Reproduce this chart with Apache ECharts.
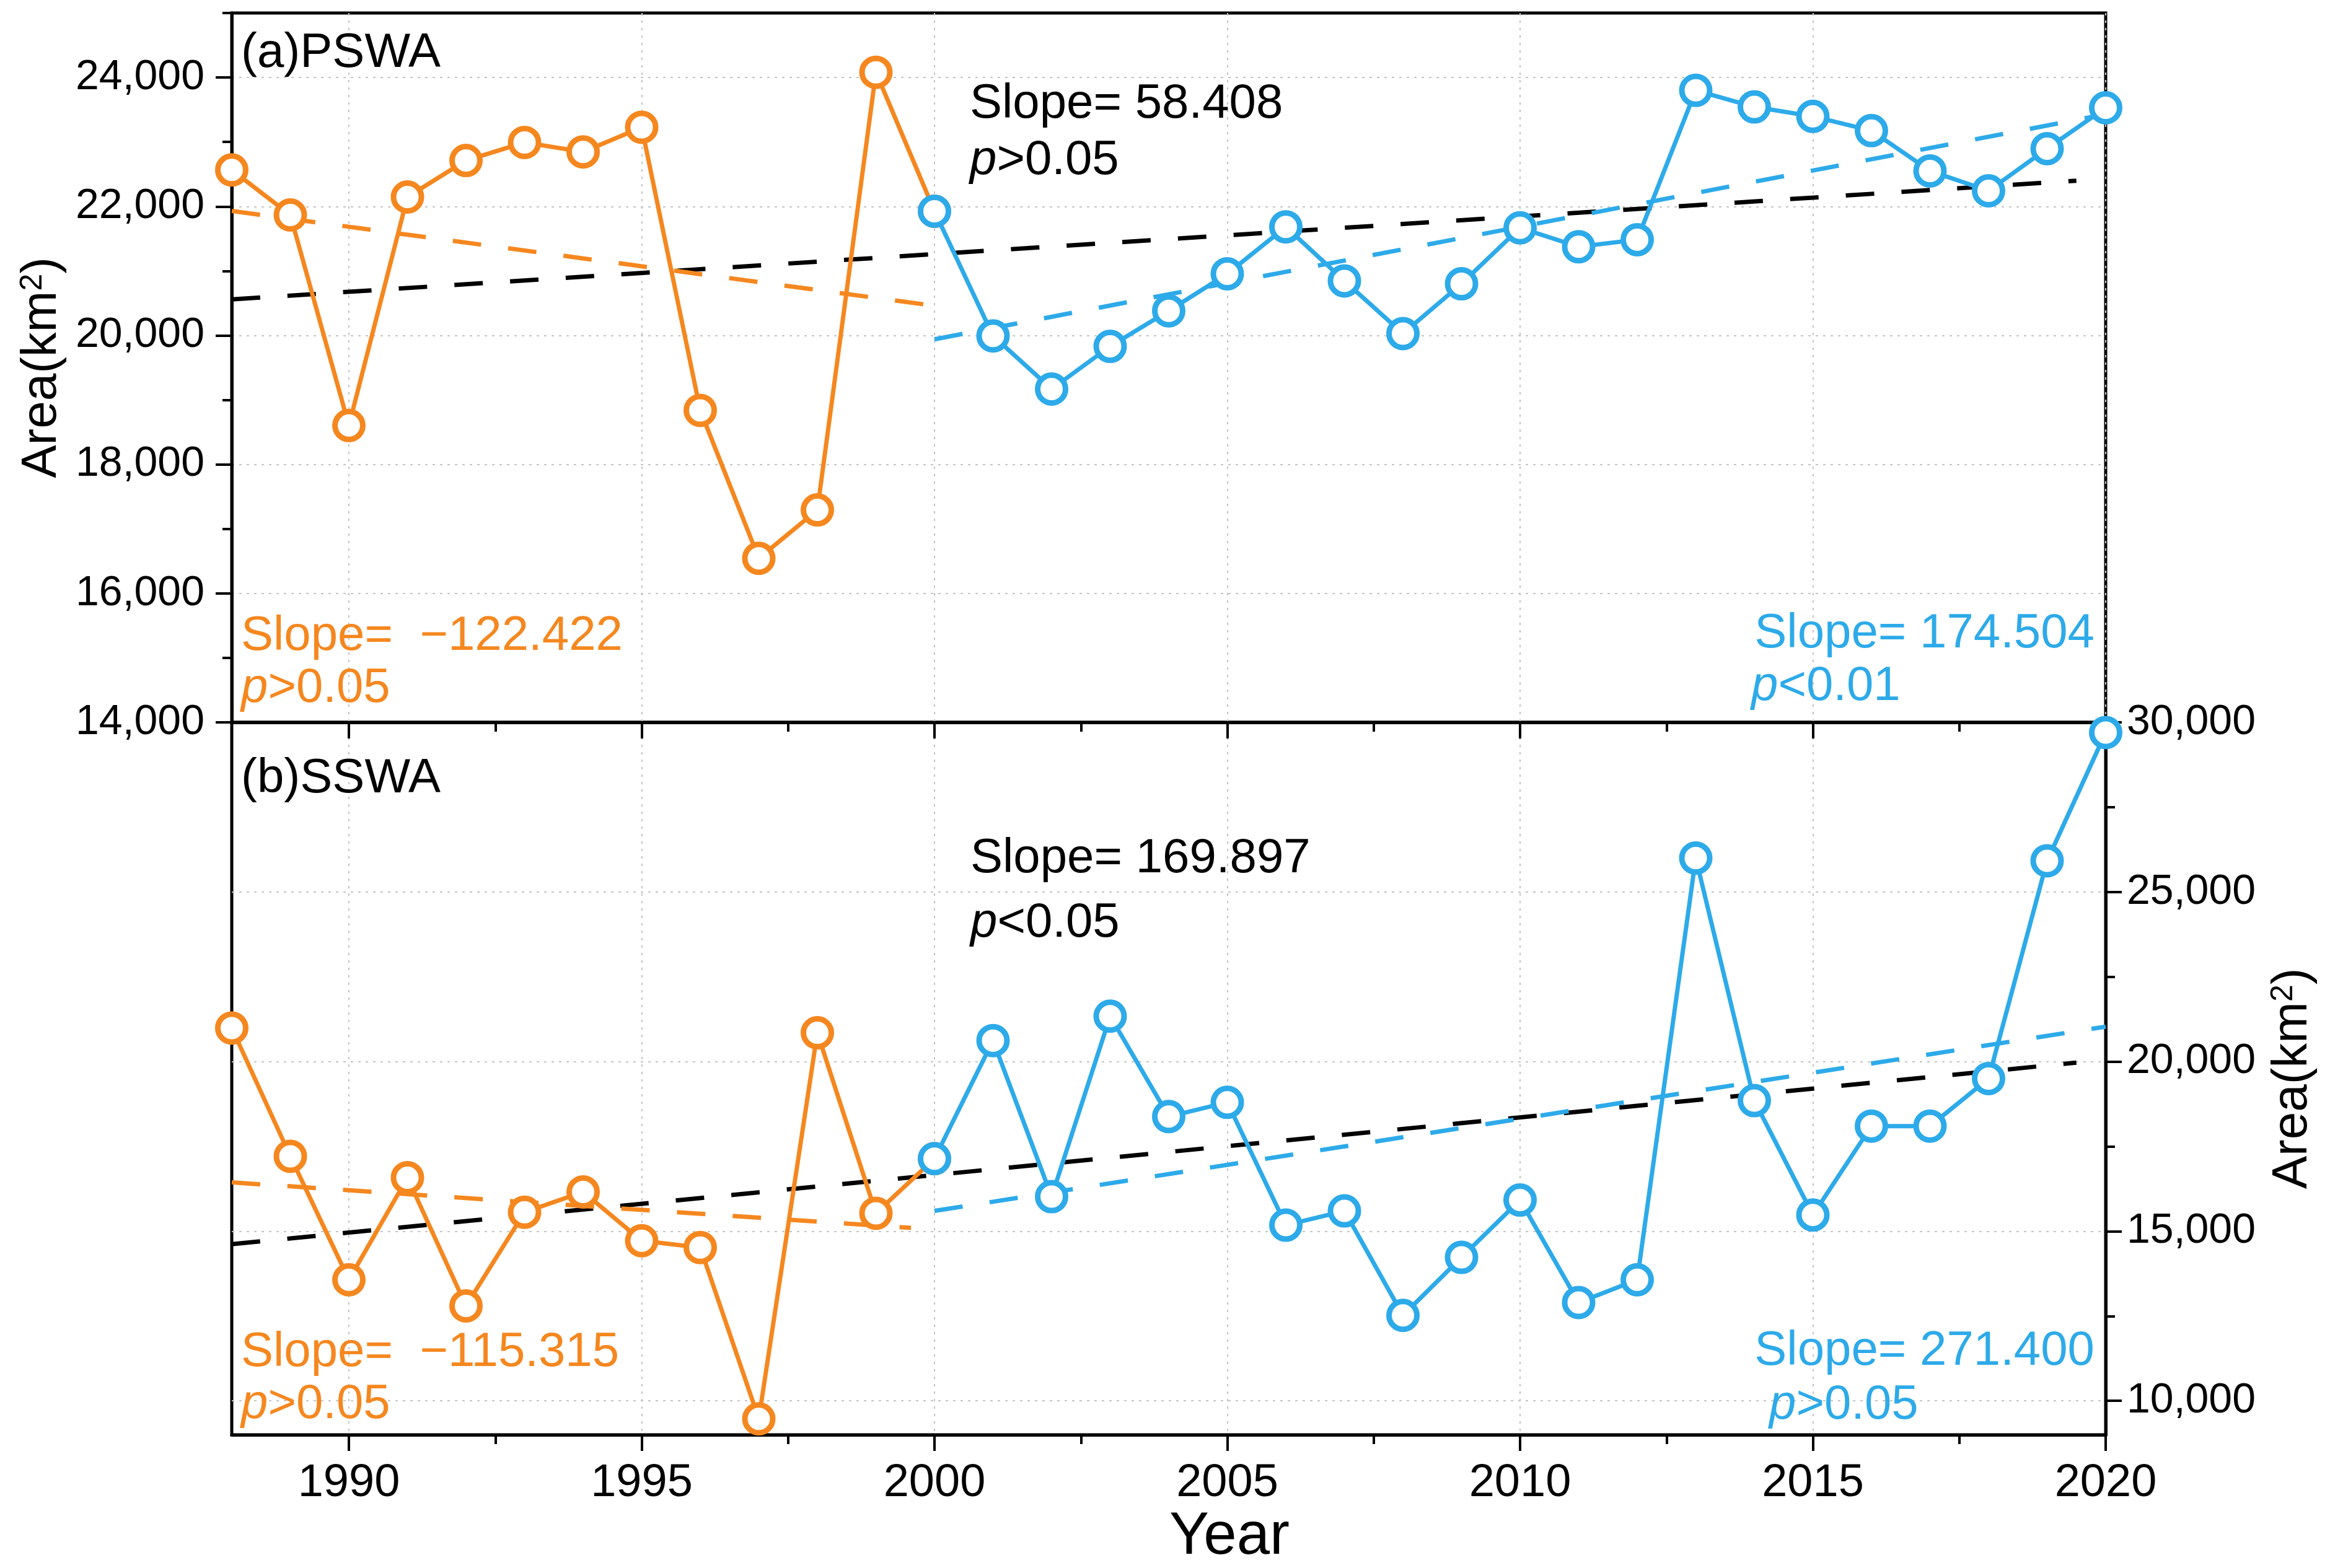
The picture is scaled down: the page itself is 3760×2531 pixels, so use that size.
<!DOCTYPE html>
<html><head><meta charset="utf-8">
<script src="https://cdn.jsdelivr.net/npm/echarts@6/dist/echarts.min.js"></script>
<style>html,body{margin:0;padding:0;background:#fff}#c{width:3760px;height:2531px}</style>
</head><body><div id="c"></div>
<script>
// ---------------- data ----------------
const years = [1988,1989,1990,1991,1992,1993,1994,1995,1996,1997,1998,1999,2000,2001,2002,2003,2004,2005,2006,2007,2008,2009,2010,2011,2012,2013,2014,2015,2016,2017,2018,2019,2020];
const pswaArea = [22566,21868,18603,22147,22713,22993,22846,23228,18838,16544,17294,24081,21926,19993,19169,19831,20382,20956,21684,20846,20029,20801,21669,21375,21485,23801,23544,23397,23176,22551,22243,22897,23530];
const sswaArea = [20990,17210,13570,16580,12800,15560,16160,14720,14520,9470,20850,15530,17140,20620,16020,21340,18380,18800,15180,15600,12520,14230,15920,12900,13570,26000,18850,15480,18100,18100,19500,25920,29700];
const splitYear = 2000;

// trend line end points
const pswaTrendAll = [[1988,20560],[2019.5,22400]];
const pswaTrendEarly = [[1988,21930],[2000,20460]];
const pswaTrendLate = [[2000,19940],[2020,23430]];
const sswaTrendAll = [[1988,14620],[2019.5,19970]];
const sswaTrendEarly = [[1988,16440],[1999.6,15100]];
const sswaTrendLate = [[2000,15600],[2020,21030]];

// ticks
const xTickValues = [1990,1995,2000,2005,2010,2015,2020];
const xMinorValues = [1992.5,1997.5,2002.5,2007.5,2012.5,2017.5];
const pswaTicks = [14000,16000,18000,20000,22000,24000];
const pswaMinor = [15000,17000,19000,21000,23000,25000];
const sswaTicks = [10000,15000,20000,25000,30000];
const sswaMinor = [12500,17500,22500,27500];

// annotation texts
const panelLabels = ['(a)PSWA','(b)SSWA'];
const slopeText = {
  pswa: ['Slope= 58.408','{i|p}>0.05','Slope=  \u2212122.422','{i|p}>0.05','Slope= 174.504','{i|p}<0.01'],
  sswa: ['Slope= 169.897','{i|p}<0.05','Slope=  \u2212115.315','{i|p}>0.05','Slope= 271.400','{i|p}>0.05']
};

// ---------------- styles ----------------
const FONT = '"Liberation Sans", Arial, Helvetica, sans-serif';
const ORANGE = '#F5871F', BLUE = '#2DAAE9', BLACK = '#000';
const GRIDLINE = {color:'#c4c4c4', width:2, type:[4,8]};

function pairs(arr, from, to){
  const out = [];
  years.forEach((y,i)=>{ if (y>=from && y<=to) out.push([y, arr[i]]); });
  return out;
}
const fmt = v => Number(v).toLocaleString('en-US');

function xAx(gi, vals, major, labels, name){
  return {
    type:'value', gridIndex:gi, min:1988, max:2020, position:'bottom',
    axisLine:{show:major, onZero:false, lineStyle:{color:BLACK, width:5}},
    axisTick:{show:true, inside:false, length: major?26:15, lineStyle:{color:BLACK, width:4}, customValues: vals},
    axisLabel:{show:labels, customValues: vals, margin:42, color:BLACK, fontSize:74, fontFamily:FONT, formatter: v=>String(v)},
    splitLine:{show:major, lineStyle:GRIDLINE},
    minorTick:{show:false},
    name: name || '', nameLocation:'middle', nameGap:118,
    nameTextStyle:{color:BLACK, fontSize:96, fontFamily:FONT, padding:[0,0,0,196]}
  };
}
const areaName = 'Area(km{s|2})';
const nameStyle = {color:BLACK, fontSize:80, fontFamily:FONT,
  rich:{s:{fontSize:50, fontFamily:FONT, color:BLACK, verticalAlign:'top', padding:[0,0,30,0]}}};

function yAx(gi, pos, min, max, vals, major, labels, name, gap, margin){
  return {
    type:'value', gridIndex:gi, position:pos, min:min, max:max,
    axisLine:{show:major, onZero:false, lineStyle:{color:BLACK, width:5}},
    axisTick:{show:true, inside:false, length: major?26:15, lineStyle:{color:BLACK, width:4}, customValues: vals},
    axisLabel:{show:labels, customValues: vals, margin:margin||40, color:BLACK, fontSize:68, fontFamily:FONT, formatter: fmt},
    splitLine:{show:major, lineStyle:GRIDLINE},
    minorTick:{show:false},
    name: name || '', nameLocation:'middle', nameRotate:90, nameGap: gap||0,
    nameTextStyle: nameStyle
  };
}

function dataSeries(xi, yi, data, color, z){
  return {type:'line', xAxisIndex:xi, yAxisIndex:yi, data:data, z:z,
    symbol:'circle', symbolSize:45, showSymbol:true, clip:false,
    itemStyle:{color:'#fff', borderColor:color, borderWidth:9},
    lineStyle:{color:color, width:7}, animation:false};
}
function trendSeries(xi, yi, data, color){
  return {type:'line', xAxisIndex:xi, yAxisIndex:yi, data:data, z:2,
    symbol:'none', lineStyle:{color:color, width:7, type:[46,44]}, animation:false};
}

function txt(x, y, text, color, align){
  return {type:'text', x:x, y:y, z:100, silent:true,
    style:{text:text, fill:color, fontSize:78, fontFamily:FONT, align:align||'left', verticalAlign:'middle',
      rich:{i:{fontStyle:'italic', fontSize:78, fontFamily:FONT, fill:color, color:color}}}};
}

const option = {
  backgroundColor:'#fff',
  animation:false,
  grid:[
    {left:374, right:362, top:21, height:1145, show:true, borderColor:BLACK, borderWidth:5, outerBoundsMode:'none', containLabel:false},
    {left:374, right:362, top:1166, height:1150, show:true, borderColor:BLACK, borderWidth:5, outerBoundsMode:'none', containLabel:false}
  ],
  xAxis:[
    xAx(0, xTickValues, true, false),
    xAx(0, xMinorValues, false, false),
    xAx(1, xTickValues, true, true, 'Year'),
    xAx(1, xMinorValues, false, false)
  ],
  yAxis:[
    yAx(0, 'left', 14000, 25000, pswaTicks, true, true, areaName, 266, 44),
    yAx(0, 'left', 14000, 25000, pswaMinor, false, false),
    yAx(1, 'right', 9000, 30000, sswaTicks, true, true, areaName, 262, 34),
    yAx(1, 'right', 9000, 30000, sswaMinor, false, false)
  ],
  series:[
    trendSeries(0,0,pswaTrendAll,BLACK),
    trendSeries(0,0,pswaTrendEarly,ORANGE),
    trendSeries(0,0,pswaTrendLate,BLUE),
    dataSeries(0,0,pairs(pswaArea,1988,splitYear),ORANGE,3),
    dataSeries(0,0,pairs(pswaArea,splitYear,2020),BLUE,4),
    trendSeries(2,2,sswaTrendAll,BLACK),
    trendSeries(2,2,sswaTrendEarly,ORANGE),
    trendSeries(2,2,sswaTrendLate,BLUE),
    dataSeries(2,2,pairs(sswaArea,1988,splitYear),ORANGE,3),
    dataSeries(2,2,pairs(sswaArea,splitYear,2020),BLUE,4)
  ],
  graphic:[
    txt(389, 86, panelLabels[0], BLACK),
    txt(1565, 168, slopeText.pswa[0], BLACK),
    txt(1565, 259, slopeText.pswa[1], BLACK),
    txt(389, 1027, slopeText.pswa[2], ORANGE),
    txt(389, 1111, slopeText.pswa[3], ORANGE),
    txt(3380, 1023, slopeText.pswa[4], BLUE, 'right'),
    txt(2826, 1108, slopeText.pswa[5], BLUE),
    txt(389, 1257, panelLabels[1], BLACK),
    txt(1566, 1386, slopeText.sswa[0], BLACK),
    txt(1566, 1490, slopeText.sswa[1], BLACK),
    txt(389, 2183, slopeText.sswa[2], ORANGE),
    txt(389, 2267, slopeText.sswa[3], ORANGE),
    txt(3380, 2181, slopeText.sswa[4], BLUE, 'right'),
    txt(2855, 2268, slopeText.sswa[5], BLUE)
  ]
};
const chart = echarts.init(document.getElementById('c'), null, {renderer:'canvas'});
chart.setOption(option);
</script></body></html>
